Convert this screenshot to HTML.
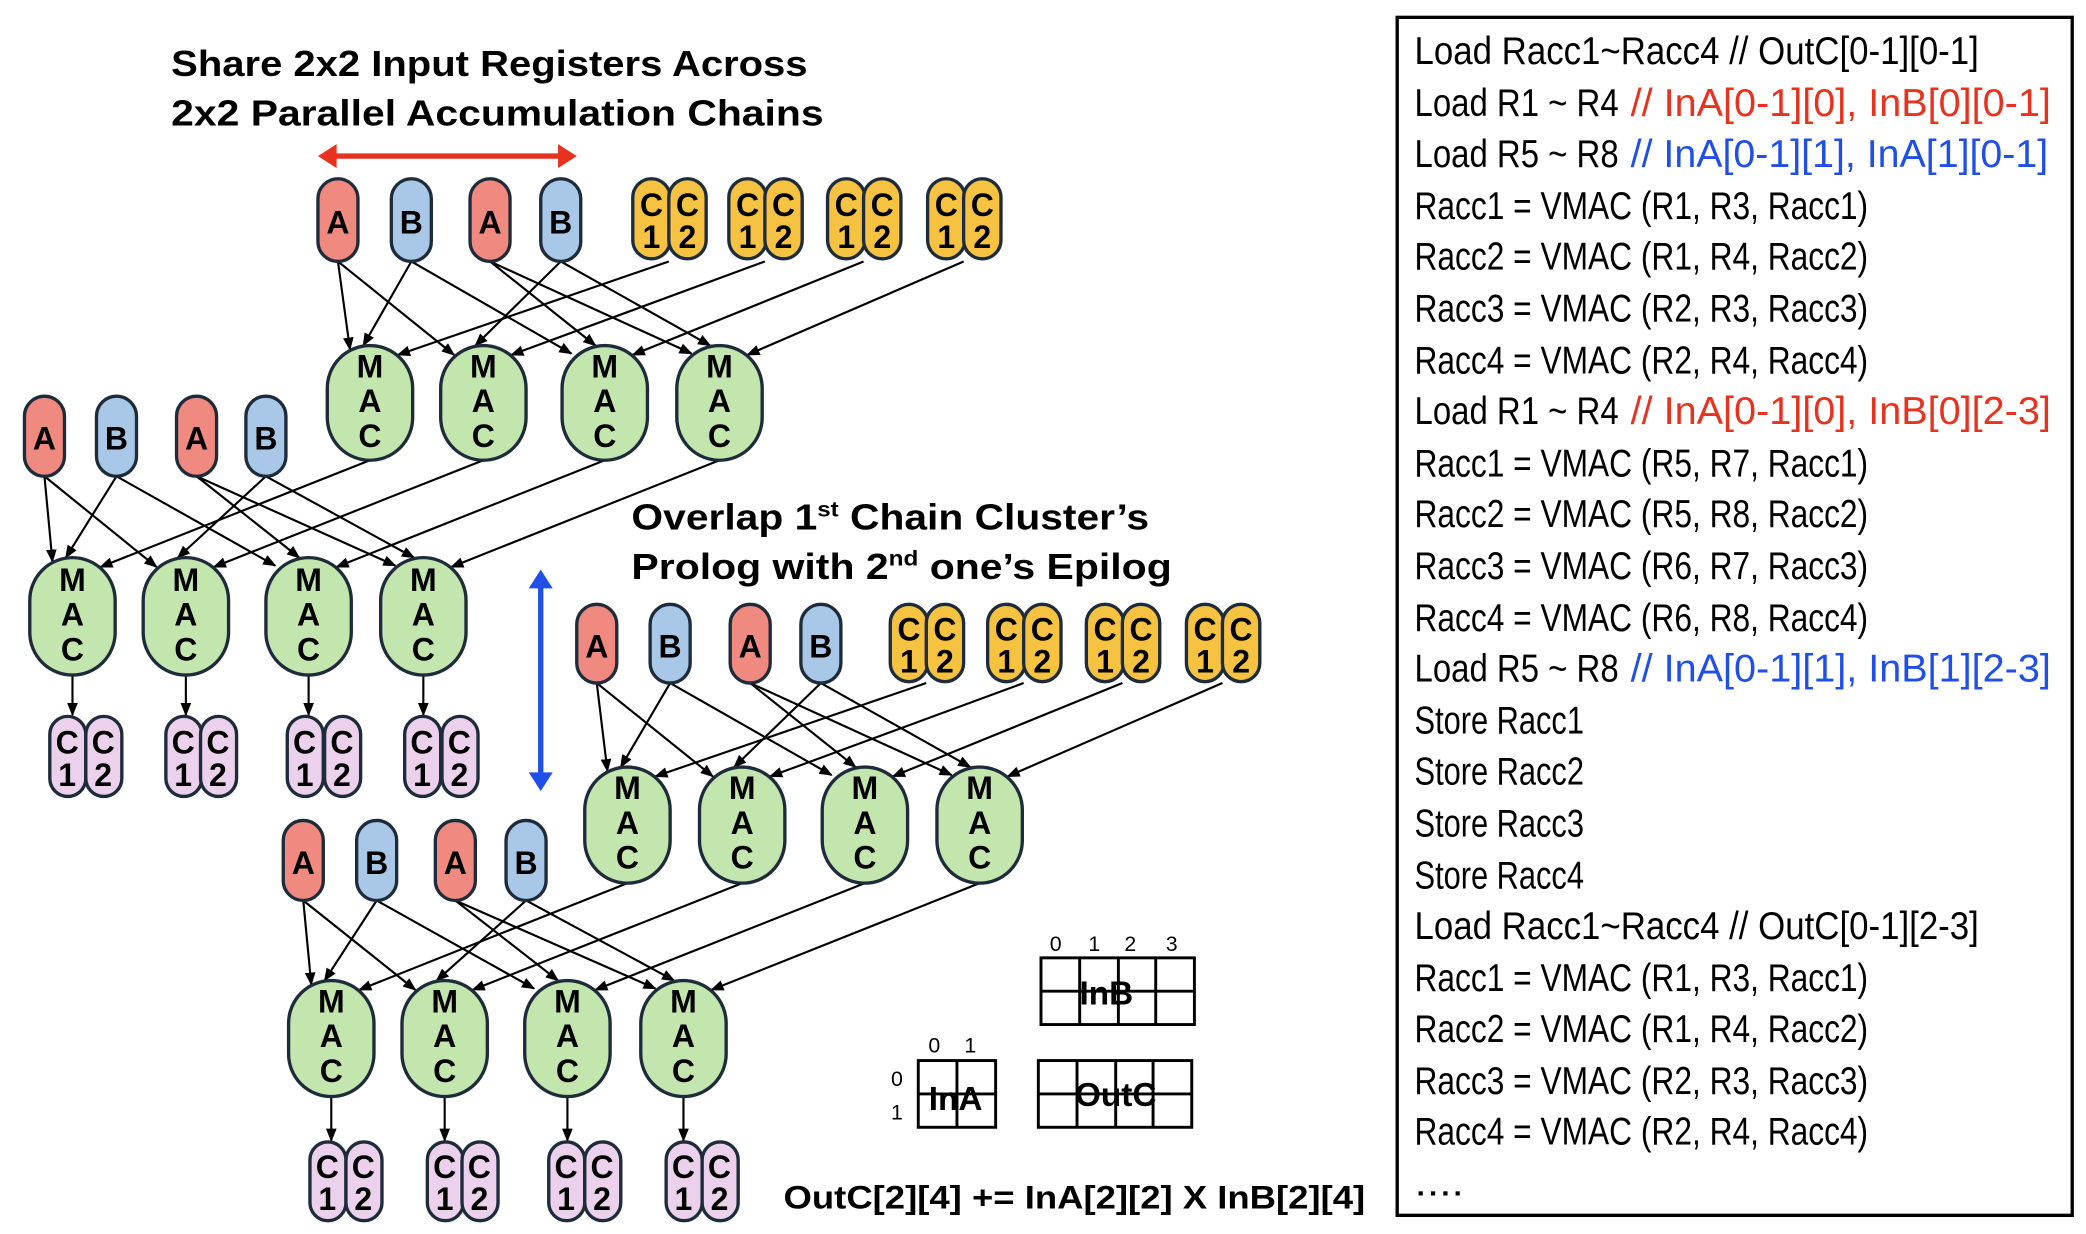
<!DOCTYPE html>
<html><head><meta charset="utf-8"><style>
html,body{margin:0;padding:0;background:#fff;}
svg{display:block;}
.t{font-family:"Liberation Sans",sans-serif;font-weight:bold;fill:#000;}
.p{font-family:"Liberation Sans",sans-serif;font-weight:bold;font-size:24px;text-anchor:middle;fill:#000;}
.m{font-size:24px;}
.c{font-family:"Liberation Sans",sans-serif;font-size:29px;fill:#000;}
.e line{stroke:#000;stroke-width:1.6;marker-end:url(#ah);}
.ra{fill:#F08A80;stroke:#1d2b3a;stroke-width:2.5;}
.rb{fill:#A9C8E8;stroke:#1d2b3a;stroke-width:2.5;}
.ry{fill:#F5C242;stroke:#1d2b3a;stroke-width:2.5;}
.rg{fill:#C3E5AE;stroke:#1d2b3a;stroke-width:2.5;}
.rp{fill:#EBD1EC;stroke:#1d2b3a;stroke-width:2.5;}
</style></head><body>
<svg width="2086" height="1234" viewBox="0 0 1563 925" xmlns="http://www.w3.org/2000/svg">
<defs>
<marker id="ah" markerWidth="10" markerHeight="8" refX="9" refY="4" orient="auto" markerUnits="userSpaceOnUse"><path d="M0,0 L10,4 L0,8 z" fill="#000"/></marker>
</defs>

<!-- Titles -->
<text class="t" x="128" y="57" font-size="27" textLength="477" lengthAdjust="spacingAndGlyphs">Share 2x2 Input Registers Across</text>
<text class="t" x="128" y="94" font-size="27" textLength="489" lengthAdjust="spacingAndGlyphs">2x2 Parallel Accumulation Chains</text>
<text class="t" x="473" y="397" font-size="27" textLength="388" lengthAdjust="spacingAndGlyphs">Overlap 1<tspan font-size="16" dy="-10">st</tspan><tspan dy="10"> Chain Cluster’s</tspan></text>
<text class="t" x="473" y="434" font-size="27" textLength="405" lengthAdjust="spacingAndGlyphs">Prolog  with 2<tspan font-size="16" dy="-10">nd</tspan><tspan dy="10">  one’s Epilog</tspan></text>

<!-- red double arrow -->
<line x1="248" y1="117" x2="422" y2="117" stroke="#E8321F" stroke-width="4"/>
<path d="M238,117 L252,108 L252,126 z" fill="#E8321F"/>
<path d="M432,117 L418,108 L418,126 z" fill="#E8321F"/>
<!-- blue double arrow -->
<line x1="405" y1="438" x2="405" y2="582" stroke="#1F4FE8" stroke-width="4"/>
<path d="M405,427 L396,441 L414,441 z" fill="#1F4FE8"/>
<path d="M405,593 L396,579 L414,579 z" fill="#1F4FE8"/>

<!-- ===== Edges ===== -->
<g class="e">
<line x1="253" y1="196" x2="262" y2="262"/>
<line x1="253" y1="196" x2="340" y2="266"/>
<line x1="308" y1="196" x2="272" y2="259"/>
<line x1="308" y1="196" x2="428" y2="265"/>
<line x1="367" y1="196" x2="446" y2="259"/>
<line x1="367" y1="196" x2="518" y2="265"/>
<line x1="420" y1="196" x2="356" y2="259"/>
<line x1="420" y1="196" x2="532" y2="259"/>
<line x1="501" y1="196" x2="298" y2="266"/>
<line x1="573" y1="196" x2="383" y2="266"/>
<line x1="647" y1="196" x2="474" y2="266"/>
<line x1="722" y1="196" x2="560" y2="266"/>
<line x1="33" y1="357" x2="39" y2="421"/>
<line x1="33" y1="357" x2="117" y2="425"/>
<line x1="87" y1="357" x2="49" y2="418"/>
<line x1="87" y1="357" x2="206" y2="424"/>
<line x1="147" y1="357" x2="224" y2="418"/>
<line x1="147" y1="357" x2="296" y2="424"/>
<line x1="199" y1="357" x2="133" y2="418"/>
<line x1="199" y1="357" x2="310" y2="418"/>
<line x1="277" y1="345" x2="75" y2="425"/>
<line x1="362" y1="345" x2="160" y2="425"/>
<line x1="453" y1="345" x2="252" y2="425"/>
<line x1="539" y1="345" x2="338" y2="425"/>
<line x1="54" y1="506" x2="54" y2="536"/>
<line x1="139" y1="506" x2="139" y2="536"/>
<line x1="231" y1="506" x2="231" y2="536"/>
<line x1="317" y1="506" x2="317" y2="536"/>
<line x1="447" y1="512" x2="455" y2="578"/>
<line x1="447" y1="512" x2="534" y2="582"/>
<line x1="502" y1="512" x2="465" y2="575"/>
<line x1="502" y1="512" x2="623" y2="581"/>
<line x1="562" y1="512" x2="641" y2="575"/>
<line x1="562" y1="512" x2="713" y2="581"/>
<line x1="615" y1="512" x2="550" y2="575"/>
<line x1="615" y1="512" x2="727" y2="575"/>
<line x1="694" y1="512" x2="491" y2="582"/>
<line x1="767" y1="512" x2="577" y2="582"/>
<line x1="841" y1="512" x2="669" y2="582"/>
<line x1="916" y1="512" x2="755" y2="582"/>
<line x1="227" y1="675" x2="233" y2="738"/>
<line x1="227" y1="675" x2="311" y2="742"/>
<line x1="282" y1="675" x2="243" y2="735"/>
<line x1="282" y1="675" x2="400" y2="741"/>
<line x1="341" y1="675" x2="418" y2="735"/>
<line x1="341" y1="675" x2="491" y2="741"/>
<line x1="394" y1="675" x2="327" y2="735"/>
<line x1="394" y1="675" x2="505" y2="735"/>
<line x1="470" y1="662" x2="269" y2="742"/>
<line x1="556" y1="662" x2="354" y2="742"/>
<line x1="648" y1="662" x2="446" y2="742"/>
<line x1="734" y1="662" x2="533" y2="742"/>
<line x1="248" y1="822" x2="248" y2="855"/>
<line x1="333" y1="822" x2="333" y2="855"/>
<line x1="425" y1="822" x2="425" y2="855"/>
<line x1="512" y1="822" x2="512" y2="855"/>
</g>

<!-- ===== Cluster T nodes ===== -->
<rect class="ra" x="238" y="134" width="30" height="62" rx="15"/><text class="p" x="253" y="175" font-size="28">A</text>
<rect class="rb" x="293" y="134" width="30" height="62" rx="15"/><text class="p" x="308" y="175" font-size="28">B</text>
<rect class="ra" x="352" y="134" width="30" height="62" rx="15"/><text class="p" x="367" y="175" font-size="28">A</text>
<rect class="rb" x="405" y="134" width="30" height="62" rx="15"/><text class="p" x="420" y="175" font-size="28">B</text>
<rect class="ry" x="474" y="134" width="28" height="60" rx="14"/><text class="p" x="488" y="162">C</text><text class="p" x="488" y="186">1</text>
<rect class="ry" x="501" y="134" width="28" height="60" rx="14"/><text class="p" x="515" y="162">C</text><text class="p" x="515" y="186">2</text>
<rect class="ry" x="546" y="134" width="28" height="60" rx="14"/><text class="p" x="560" y="162">C</text><text class="p" x="560" y="186">1</text>
<rect class="ry" x="573" y="134" width="28" height="60" rx="14"/><text class="p" x="587" y="162">C</text><text class="p" x="587" y="186">2</text>
<rect class="ry" x="620" y="134" width="28" height="60" rx="14"/><text class="p" x="634" y="162">C</text><text class="p" x="634" y="186">1</text>
<rect class="ry" x="647" y="134" width="28" height="60" rx="14"/><text class="p" x="661" y="162">C</text><text class="p" x="661" y="186">2</text>
<rect class="ry" x="695" y="134" width="28" height="60" rx="14"/><text class="p" x="709" y="162">C</text><text class="p" x="709" y="186">1</text>
<rect class="ry" x="722" y="134" width="28" height="60" rx="14"/><text class="p" x="736" y="162">C</text><text class="p" x="736" y="186">2</text>
<rect class="rg" x="245" y="259" width="64" height="86" rx="32"/><text class="p" x="277" y="283">M</text><text class="p" x="277" y="309">A</text><text class="p" x="277" y="335">C</text>
<rect class="rg" x="330" y="259" width="64" height="86" rx="32"/><text class="p" x="362" y="283">M</text><text class="p" x="362" y="309">A</text><text class="p" x="362" y="335">C</text>
<rect class="rg" x="421" y="259" width="64" height="86" rx="32"/><text class="p" x="453" y="283">M</text><text class="p" x="453" y="309">A</text><text class="p" x="453" y="335">C</text>
<rect class="rg" x="507" y="259" width="64" height="86" rx="32"/><text class="p" x="539" y="283">M</text><text class="p" x="539" y="309">A</text><text class="p" x="539" y="335">C</text>

<!-- ===== Cluster L nodes ===== -->
<rect class="ra" x="18" y="297" width="30" height="60" rx="15"/><text class="p" x="33" y="337" font-size="28">A</text>
<rect class="rb" x="72" y="297" width="30" height="60" rx="15"/><text class="p" x="87" y="337" font-size="28">B</text>
<rect class="ra" x="132" y="297" width="30" height="60" rx="15"/><text class="p" x="147" y="337" font-size="28">A</text>
<rect class="rb" x="184" y="297" width="30" height="60" rx="15"/><text class="p" x="199" y="337" font-size="28">B</text>
<rect class="rg" x="22" y="418" width="64" height="88" rx="32"/><text class="p" x="54" y="443">M</text><text class="p" x="54" y="469">A</text><text class="p" x="54" y="495">C</text>
<rect class="rg" x="107" y="418" width="64" height="88" rx="32"/><text class="p" x="139" y="443">M</text><text class="p" x="139" y="469">A</text><text class="p" x="139" y="495">C</text>
<rect class="rg" x="199" y="418" width="64" height="88" rx="32"/><text class="p" x="231" y="443">M</text><text class="p" x="231" y="469">A</text><text class="p" x="231" y="495">C</text>
<rect class="rg" x="285" y="418" width="64" height="88" rx="32"/><text class="p" x="317" y="443">M</text><text class="p" x="317" y="469">A</text><text class="p" x="317" y="495">C</text>
<rect class="rp" x="37" y="537" width="27" height="60" rx="13.5"/><text class="p" x="50" y="565">C</text><text class="p" x="50" y="589">1</text>
<rect class="rp" x="64" y="537" width="27" height="60" rx="13.5"/><text class="p" x="77" y="565">C</text><text class="p" x="77" y="589">2</text>
<rect class="rp" x="124" y="537" width="27" height="60" rx="13.5"/><text class="p" x="137" y="565">C</text><text class="p" x="137" y="589">1</text>
<rect class="rp" x="150" y="537" width="27" height="60" rx="13.5"/><text class="p" x="163" y="565">C</text><text class="p" x="163" y="589">2</text>
<rect class="rp" x="215" y="537" width="27" height="60" rx="13.5"/><text class="p" x="228" y="565">C</text><text class="p" x="228" y="589">1</text>
<rect class="rp" x="243" y="537" width="27" height="60" rx="13.5"/><text class="p" x="256" y="565">C</text><text class="p" x="256" y="589">2</text>
<rect class="rp" x="303" y="537" width="27" height="60" rx="13.5"/><text class="p" x="316" y="565">C</text><text class="p" x="316" y="589">1</text>
<rect class="rp" x="331" y="537" width="27" height="60" rx="13.5"/><text class="p" x="344" y="565">C</text><text class="p" x="344" y="589">2</text>

<!-- ===== Cluster M nodes ===== -->
<rect class="ra" x="432" y="453" width="30" height="59" rx="15"/><text class="p" x="447" y="493" font-size="28">A</text>
<rect class="rb" x="487" y="453" width="30" height="59" rx="15"/><text class="p" x="502" y="493" font-size="28">B</text>
<rect class="ra" x="547" y="453" width="30" height="59" rx="15"/><text class="p" x="562" y="493" font-size="28">A</text>
<rect class="rb" x="600" y="453" width="30" height="59" rx="15"/><text class="p" x="615" y="493" font-size="28">B</text>
<rect class="ry" x="667" y="453" width="28" height="58" rx="14"/><text class="p" x="681" y="480">C</text><text class="p" x="681" y="504">1</text>
<rect class="ry" x="694" y="453" width="28" height="58" rx="14"/><text class="p" x="708" y="480">C</text><text class="p" x="708" y="504">2</text>
<rect class="ry" x="740" y="453" width="28" height="58" rx="14"/><text class="p" x="754" y="480">C</text><text class="p" x="754" y="504">1</text>
<rect class="ry" x="767" y="453" width="28" height="58" rx="14"/><text class="p" x="781" y="480">C</text><text class="p" x="781" y="504">2</text>
<rect class="ry" x="814" y="453" width="28" height="58" rx="14"/><text class="p" x="828" y="480">C</text><text class="p" x="828" y="504">1</text>
<rect class="ry" x="841" y="453" width="28" height="58" rx="14"/><text class="p" x="855" y="480">C</text><text class="p" x="855" y="504">2</text>
<rect class="ry" x="889" y="453" width="28" height="58" rx="14"/><text class="p" x="903" y="480">C</text><text class="p" x="903" y="504">1</text>
<rect class="ry" x="916" y="453" width="28" height="58" rx="14"/><text class="p" x="930" y="480">C</text><text class="p" x="930" y="504">2</text>
<rect class="rg" x="438" y="575" width="64" height="87" rx="32"/><text class="p" x="470" y="599">M</text><text class="p" x="470" y="625">A</text><text class="p" x="470" y="651">C</text>
<rect class="rg" x="524" y="575" width="64" height="87" rx="32"/><text class="p" x="556" y="599">M</text><text class="p" x="556" y="625">A</text><text class="p" x="556" y="651">C</text>
<rect class="rg" x="616" y="575" width="64" height="87" rx="32"/><text class="p" x="648" y="599">M</text><text class="p" x="648" y="625">A</text><text class="p" x="648" y="651">C</text>
<rect class="rg" x="702" y="575" width="64" height="87" rx="32"/><text class="p" x="734" y="599">M</text><text class="p" x="734" y="625">A</text><text class="p" x="734" y="651">C</text>

<!-- ===== Cluster B nodes ===== -->
<rect class="ra" x="212" y="615" width="30" height="60" rx="15"/><text class="p" x="227" y="655" font-size="28">A</text>
<rect class="rb" x="267" y="615" width="30" height="60" rx="15"/><text class="p" x="282" y="655" font-size="28">B</text>
<rect class="ra" x="326" y="615" width="30" height="60" rx="15"/><text class="p" x="341" y="655" font-size="28">A</text>
<rect class="rb" x="379" y="615" width="30" height="60" rx="15"/><text class="p" x="394" y="655" font-size="28">B</text>
<rect class="rg" x="216" y="735" width="64" height="87" rx="32"/><text class="p" x="248" y="759">M</text><text class="p" x="248" y="785">A</text><text class="p" x="248" y="811">C</text>
<rect class="rg" x="301" y="735" width="64" height="87" rx="32"/><text class="p" x="333" y="759">M</text><text class="p" x="333" y="785">A</text><text class="p" x="333" y="811">C</text>
<rect class="rg" x="393" y="735" width="64" height="87" rx="32"/><text class="p" x="425" y="759">M</text><text class="p" x="425" y="785">A</text><text class="p" x="425" y="811">C</text>
<rect class="rg" x="480" y="735" width="64" height="87" rx="32"/><text class="p" x="512" y="759">M</text><text class="p" x="512" y="785">A</text><text class="p" x="512" y="811">C</text>
<rect class="rp" x="232" y="856" width="27" height="59" rx="13.5"/><text class="p" x="245" y="883">C</text><text class="p" x="245" y="907">1</text>
<rect class="rp" x="259" y="856" width="27" height="59" rx="13.5"/><text class="p" x="272" y="883">C</text><text class="p" x="272" y="907">2</text>
<rect class="rp" x="320" y="856" width="27" height="59" rx="13.5"/><text class="p" x="333" y="883">C</text><text class="p" x="333" y="907">1</text>
<rect class="rp" x="346" y="856" width="27" height="59" rx="13.5"/><text class="p" x="359" y="883">C</text><text class="p" x="359" y="907">2</text>
<rect class="rp" x="411" y="856" width="27" height="59" rx="13.5"/><text class="p" x="424" y="883">C</text><text class="p" x="424" y="907">1</text>
<rect class="rp" x="438" y="856" width="27" height="59" rx="13.5"/><text class="p" x="451" y="883">C</text><text class="p" x="451" y="907">2</text>
<rect class="rp" x="499" y="856" width="27" height="59" rx="13.5"/><text class="p" x="512" y="883">C</text><text class="p" x="512" y="907">1</text>
<rect class="rp" x="526" y="856" width="27" height="59" rx="13.5"/><text class="p" x="539" y="883">C</text><text class="p" x="539" y="907">2</text>

<!-- ===== Matrix grids ===== -->
<g fill="none" stroke="#000" stroke-width="2.2">
<rect x="780" y="718" width="115" height="50"/>
<line x1="780" y1="743" x2="895" y2="743"/><line x1="809" y1="718" x2="809" y2="768"/><line x1="838" y1="718" x2="838" y2="768"/><line x1="866" y1="718" x2="866" y2="768"/>
<rect x="688" y="795" width="58" height="50"/>
<line x1="688" y1="820" x2="746" y2="820"/><line x1="717" y1="795" x2="717" y2="845"/>
<rect x="778" y="795" width="115" height="50"/>
<line x1="778" y1="820" x2="893" y2="820"/><line x1="807" y1="795" x2="807" y2="845"/><line x1="836" y1="795" x2="836" y2="845"/><line x1="864" y1="795" x2="864" y2="845"/>
</g>
<g font-family="Liberation Sans, sans-serif" font-size="16" text-anchor="middle">
<text x="791" y="713">0</text><text x="820" y="713">1</text><text x="847" y="713">2</text><text x="878" y="713">3</text>
<text x="700" y="789">0</text><text x="727" y="789">1</text>
<text x="672" y="814">0</text><text x="672" y="839">1</text>
</g>
<text class="t" x="829" y="753" font-size="25" text-anchor="middle">InB</text>
<text class="t" x="716" y="832" font-size="25" text-anchor="middle">InA</text>
<text class="t" x="836" y="829" font-size="25" text-anchor="middle">OutC</text>
<text class="t" x="587" y="906" font-size="24" textLength="436" lengthAdjust="spacingAndGlyphs">OutC[2][4] += InA[2][2] X InB[2][4]</text>

<!-- ===== Code panel ===== -->
<rect x="1047" y="13" width="506" height="898" fill="none" stroke="#000" stroke-width="2.5"/>
<g class="c">
<text x="1060" y="48" textLength="423" lengthAdjust="spacingAndGlyphs">Load Racc1~Racc4 // OutC[0-1][0-1]</text>
<text x="1060" y="87" textLength="153" lengthAdjust="spacingAndGlyphs">Load R1 ~ R4</text>
<text x="1222" y="87" textLength="315" lengthAdjust="spacingAndGlyphs" fill="#E8321F">// InA[0-1][0], InB[0][0-1]</text>
<text x="1060" y="125" textLength="153" lengthAdjust="spacingAndGlyphs">Load R5 ~ R8</text>
<text x="1222" y="125" textLength="313" lengthAdjust="spacingAndGlyphs" fill="#1F4FE8">// InA[0-1][1], InA[1][0-1]</text>
<text x="1060" y="164" textLength="340" lengthAdjust="spacingAndGlyphs">Racc1 = VMAC (R1, R3, Racc1)</text>
<text x="1060" y="202" textLength="340" lengthAdjust="spacingAndGlyphs">Racc2 = VMAC (R1, R4, Racc2)</text>
<text x="1060" y="241" textLength="340" lengthAdjust="spacingAndGlyphs">Racc3 = VMAC (R2, R3, Racc3)</text>
<text x="1060" y="280" textLength="340" lengthAdjust="spacingAndGlyphs">Racc4 = VMAC (R2, R4, Racc4)</text>
<text x="1060" y="318" textLength="153" lengthAdjust="spacingAndGlyphs">Load R1 ~ R4</text>
<text x="1222" y="318" textLength="315" lengthAdjust="spacingAndGlyphs" fill="#E8321F">// InA[0-1][0], InB[0][2-3]</text>
<text x="1060" y="357" textLength="340" lengthAdjust="spacingAndGlyphs">Racc1 = VMAC (R5, R7, Racc1)</text>
<text x="1060" y="395" textLength="340" lengthAdjust="spacingAndGlyphs">Racc2 = VMAC (R5, R8, Racc2)</text>
<text x="1060" y="434" textLength="340" lengthAdjust="spacingAndGlyphs">Racc3 = VMAC (R6, R7, Racc3)</text>
<text x="1060" y="473" textLength="340" lengthAdjust="spacingAndGlyphs">Racc4 = VMAC (R6, R8, Racc4)</text>
<text x="1060" y="511" textLength="153" lengthAdjust="spacingAndGlyphs">Load R5 ~ R8</text>
<text x="1222" y="511" textLength="315" lengthAdjust="spacingAndGlyphs" fill="#1F4FE8">// InA[0-1][1], InB[1][2-3]</text>
<text x="1060" y="550" textLength="127" lengthAdjust="spacingAndGlyphs">Store Racc1</text>
<text x="1060" y="588" textLength="127" lengthAdjust="spacingAndGlyphs">Store Racc2</text>
<text x="1060" y="627" textLength="127" lengthAdjust="spacingAndGlyphs">Store Racc3</text>
<text x="1060" y="666" textLength="127" lengthAdjust="spacingAndGlyphs">Store Racc4</text>
<text x="1060" y="704" textLength="423" lengthAdjust="spacingAndGlyphs">Load Racc1~Racc4 // OutC[0-1][2-3]</text>
<text x="1060" y="743" textLength="340" lengthAdjust="spacingAndGlyphs">Racc1 = VMAC (R1, R3, Racc1)</text>
<text x="1060" y="781" textLength="340" lengthAdjust="spacingAndGlyphs">Racc2 = VMAC (R1, R4, Racc2)</text>
<text x="1060" y="820" textLength="340" lengthAdjust="spacingAndGlyphs">Racc3 = VMAC (R2, R3, Racc3)</text>
<text x="1060" y="858" textLength="340" lengthAdjust="spacingAndGlyphs">Racc4 = VMAC (R2, R4, Racc4)</text>
<text x="1060" y="896" textLength="37" lengthAdjust="spacingAndGlyphs">....</text>
</g>
</svg>
</body></html>
